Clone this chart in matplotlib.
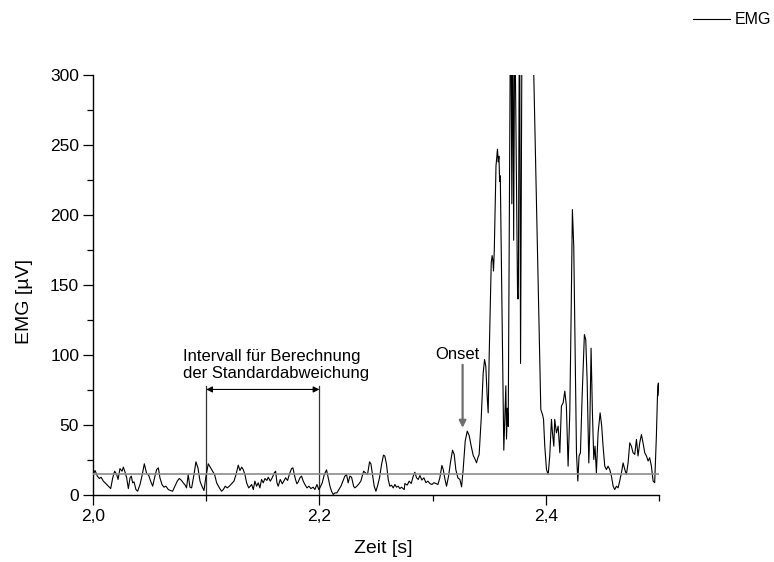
import matplotlib
matplotlib.use("Agg")
import matplotlib.pyplot as plt
from matplotlib.ticker import FixedLocator, MultipleLocator

plt.rcParams['font.family'] = ['Liberation Sans', 'DejaVu Sans']

# EMG trace: time [s] and amplitude [µV]
t_s = [
    2.0000, 2.0018, 2.0038, 2.0056, 2.0071, 2.0091, 2.0115, 2.0135, 2.0156, 2.0174,
    2.0191, 2.0209, 2.0221, 2.0238, 2.0256, 2.0268, 2.0285, 2.0297, 2.0312, 2.0327,
    2.0338, 2.0350, 2.0362, 2.0379, 2.0394, 2.0415, 2.0435, 2.0453, 2.0474, 2.0491,
    2.0509, 2.0527, 2.0547, 2.0562, 2.0577, 2.0591, 2.0609, 2.0627, 2.0644, 2.0665,
    2.0685, 2.0703, 2.0724, 2.0744, 2.0762, 2.0782, 2.0797, 2.0815, 2.0826, 2.0841,
    2.0856, 2.0871, 2.0892, 2.0909, 2.0927, 2.0945, 2.0962, 2.0980, 2.0998, 2.1018,
    2.1039, 2.1057, 2.1074, 2.1092, 2.1116, 2.1136, 2.1151, 2.1168, 2.1186, 2.1204,
    2.1224, 2.1245, 2.1263, 2.1283, 2.1298, 2.1313, 2.1327, 2.1342, 2.1357, 2.1375,
    2.1386, 2.1401, 2.1416, 2.1430, 2.1445, 2.1460, 2.1474, 2.1489, 2.1504, 2.1519,
    2.1536, 2.1548, 2.1566, 2.1583, 2.1601, 2.1613, 2.1625, 2.1636, 2.1654, 2.1672,
    2.1689, 2.1701, 2.1719, 2.1736, 2.1754, 2.1766, 2.1778, 2.1789, 2.1801, 2.1813,
    2.1828, 2.1842, 2.1857, 2.1872, 2.1890, 2.1907, 2.1925, 2.1945, 2.1960, 2.1978,
    2.1995, 2.2004, 2.2025, 2.2043, 2.2063, 2.2078, 2.2093, 2.2107, 2.2122, 2.2137,
    2.2154, 2.2172, 2.2190, 2.2207, 2.2225, 2.2240, 2.2254, 2.2269, 2.2284, 2.2302,
    2.2313, 2.2331, 2.2349, 2.2366, 2.2378, 2.2390, 2.2407, 2.2425, 2.2443, 2.2455,
    2.2469, 2.2484, 2.2499, 2.2513, 2.2531, 2.2549, 2.2566, 2.2578, 2.2593, 2.2608,
    2.2622, 2.2637, 2.2652, 2.2667, 2.2681, 2.2696, 2.2711, 2.2725, 2.2749, 2.2755,
    2.2776, 2.2793, 2.2811, 2.2829, 2.2843, 2.2858, 2.2873, 2.2888, 2.2905, 2.2923,
    2.2941, 2.2958, 2.2976, 2.2994, 2.3011, 2.3029, 2.3047, 2.3064, 2.3082, 2.3094,
    2.3108, 2.3123, 2.3141, 2.3158, 2.3176, 2.3191, 2.3205, 2.3223, 2.3241, 2.3256,
    2.3270, 2.3288, 2.3306, 2.3323, 2.3341, 2.3359, 2.3376, 2.3388, 2.3400, 2.3411,
    2.3429, 2.3447, 2.3459, 2.3470, 2.3482, 2.3491, 2.3500, 2.3518, 2.3526, 2.3532,
    2.3538, 2.3545, 2.3560, 2.3573, 2.3580, 2.3586, 2.3592, 2.3598, 2.3629, 2.3640,
    2.3647, 2.3653, 2.3660, 2.3668, 2.3690, 2.3700, 2.3708, 2.3716, 2.3726, 2.3750,
    2.3754, 2.3758, 2.3768, 2.3777, 2.3792, 2.3830, 2.3865, 2.3890, 2.3956, 2.3971,
    2.3980, 2.3991, 2.4006, 2.4021, 2.4035, 2.4050, 2.4059, 2.4071, 2.4079, 2.4094,
    2.4109, 2.4124, 2.4138, 2.4153, 2.4168, 2.4182, 2.4197, 2.4212, 2.4224, 2.4235,
    2.4247, 2.4259, 2.4271, 2.4283, 2.4294, 2.4306, 2.4321, 2.4341, 2.4353, 2.4365,
    2.4380, 2.4388, 2.4400, 2.4412, 2.4424, 2.4435, 2.4447, 2.4462, 2.4480, 2.4494,
    2.4506, 2.4521, 2.4536, 2.4550, 2.4565, 2.4580, 2.4595, 2.4609, 2.4624, 2.4639,
    2.4653, 2.4668, 2.4683, 2.4698, 2.4712, 2.4727, 2.4742, 2.4756, 2.4771, 2.4786,
    2.4801, 2.4815, 2.4830, 2.4845, 2.4859, 2.4874, 2.4889, 2.4904, 2.4918, 2.4933,
    2.4948, 2.4962, 2.4977, 2.4989, 2.4995, 2.5000,
]
emg_uv = [
    14.6, 17.5, 13.5, 11.8, 12.7, 9.9, 8.0, 6.3, 4.6, 12.3,
    17.0, 14.6, 11.1, 18.9, 17.0, 19.9, 15.8, 12.3, 4.6, 12.3,
    13.5, 8.7, 9.4, 3.9, 2.7, 7.5, 14.6, 22.3, 15.2, 14.2,
    9.9, 6.3, 13.5, 18.2, 19.4, 12.3, 7.5, 5.6, 6.3, 3.9,
    3.2, 2.7, 6.3, 9.9, 11.8, 10.4, 8.7, 7.0, 5.1, 14.6,
    5.6, 5.1, 14.6, 23.7, 19.4, 9.9, 6.3, 3.2, 13.5, 22.3,
    19.4, 17.0, 14.6, 8.7, 5.1, 2.7, 3.9, 6.3, 5.1, 6.3,
    8.0, 9.9, 14.6, 21.3, 17.5, 19.9, 18.2, 14.6, 8.7, 5.1,
    6.0, 7.5, 3.9, 9.9, 6.3, 8.7, 5.1, 11.1, 8.7, 11.8,
    10.4, 12.7, 9.9, 12.3, 15.8, 17.0, 8.7, 6.3, 11.1, 8.0,
    10.4, 12.3, 10.4, 15.2, 18.9, 19.4, 14.6, 11.1, 8.0, 9.4,
    12.3, 13.5, 9.9, 7.5, 5.1, 6.3, 4.6, 5.6, 3.9, 7.5,
    3.9, 5.1, 8.7, 14.6, 18.0, 12.3, 6.3, 2.7, 0.4, 1.5,
    1.5, 3.9, 6.3, 9.9, 13.5, 14.6, 8.7, 13.5, 12.7, 6.3,
    5.1, 6.3, 8.0, 9.9, 13.5, 17.0, 15.8, 14.6, 23.7, 22.3,
    14.6, 6.3, 2.7, 6.3, 12.3, 21.8, 28.5, 27.8, 21.8, 11.1,
    6.3, 7.0, 5.1, 7.5, 5.6, 6.3, 4.6, 5.6, 3.9, 8.2,
    7.1, 9.9, 8.2, 13.5, 16.3, 12.3, 11.1, 13.9, 10.7, 12.3,
    8.8, 9.9, 8.2, 7.5, 8.8, 8.2, 7.5, 12.3, 21.1, 18.2,
    11.7, 6.3, 13.5, 23.4, 32.0, 28.9, 18.2, 12.3, 11.1, 5.8,
    18.2, 38.5, 45.6, 42.5, 34.9, 28.2, 25.4, 23.0, 26.6, 28.9,
    53.9, 87.3, 96.8, 92.0, 70.6, 58.7, 100.0, 166.0, 171.0, 168.0,
    160.0, 175.0, 235.0, 247.0, 238.0, 242.0, 224.0, 228.0, 32.0, 60.0,
    78.0, 40.0, 62.0, 49.0, 380.0, 208.0, 360.0, 182.0, 350.0, 147.0,
    140.0, 150.0, 380.0, 94.0, 380.0, 430.0, 400.0, 315.0, 61.0, 57.5,
    54.0, 34.9, 18.2, 14.6, 27.9, 54.0, 44.4, 34.9, 54.0, 44.4,
    49.2, 30.2, 63.5, 65.8, 74.2, 63.5, 20.6, 58.7, 130.0, 203.9,
    177.7, 106.3, 30.2, 10.0, 27.9, 30.2, 70.6, 114.6, 111.0, 82.5,
    22.9, 44.4, 104.9, 58.7, 25.4, 34.9, 15.8, 44.4, 58.7, 49.2,
    34.9, 20.6, 18.2, 20.6, 18.2, 13.4, 6.3, 3.9, 6.3, 5.1,
    10.0, 15.8, 22.9, 18.2, 14.6, 22.9, 37.3, 34.9, 30.2, 29.0,
    39.7, 27.9, 37.3, 43.2, 37.3, 30.2, 27.9, 24.3, 26.6, 20.6,
    10.0, 8.8, 42.0, 77.7, 80.0, 71.0,
]

threshold_uv = 15.0                 # onset threshold
interval_s = (2.1, 2.2)             # window for the standard deviation
interval_top_uv = 78.0
interval_arrow_uv = 75.4
onset_s = 2.3265
onset_arrow_uv = (93.0, 48.0)

x_major = [2.0, 2.2, 2.4]
x_major_labels = ['2,0', '2,2', '2,4']
x_minor = [2.1, 2.3, 2.5]
y_major = [0, 50, 100, 150, 200, 250, 300]

fig = plt.figure(figsize=(7.74, 5.62), dpi=100)
ax = fig.add_axes([0.1202, 0.1192, 0.7312, 0.7473])

ax.plot(t_s, emg_uv, color='black', lw=0.8, label='EMG', zorder=3)
ax.plot([2.0, 2.5], [threshold_uv, threshold_uv], color='#8c8c8c', lw=1.2, zorder=4)

# interval used for the standard deviation
for xv in interval_s:
    ax.plot([xv, xv], [0, interval_top_uv], color='#333333', lw=0.9, zorder=2)
ax.annotate('', xy=(interval_s[1], interval_arrow_uv), xytext=(interval_s[0], interval_arrow_uv),
            arrowprops=dict(arrowstyle='<|-|>', lw=0.8, color='black',
                            mutation_scale=9, shrinkA=0, shrinkB=0))
ax.text(2.0797, 95.6, 'Intervall für Berechnung', fontsize=12, ha='left', va='baseline')
ax.text(2.0797, 83.9, 'der Standardabweichung', fontsize=12, ha='left', va='baseline')

# onset marker
ax.annotate('', xy=(onset_s, onset_arrow_uv[1]), xytext=(onset_s, onset_arrow_uv[0]),
            arrowprops=dict(arrowstyle='-|>', lw=1.6, color='#6e6e6e',
                            mutation_scale=10, shrinkA=0, shrinkB=0))
ax.text(2.3223, 97.0, 'Onset', fontsize=12, ha='center', va='baseline')

ax.set_xlim(2.0, 2.5)
ax.set_ylim(0, 300)
for side in ('top', 'right'):
    ax.spines[side].set_visible(False)
for side in ('left', 'bottom'):
    ax.spines[side].set_linewidth(1.0)

ax.xaxis.set_major_locator(FixedLocator(x_major))
ax.set_xticklabels(x_major_labels)
ax.xaxis.set_minor_locator(FixedLocator(x_minor))
ax.yaxis.set_major_locator(FixedLocator(y_major))
ax.yaxis.set_minor_locator(MultipleLocator(25))
ax.tick_params(which='major', direction='out', length=7, width=0.9, labelsize=12.5, pad=3)
ax.tick_params(which='minor', direction='out', length=4, width=0.9)

ax.set_xlabel('Zeit [s]', fontsize=14)
ax.set_ylabel('EMG [µV]', fontsize=14)
ax.xaxis.set_label_coords(0.512, -0.108)
ax.yaxis.set_label_coords(-0.106, 0.46)

fig.legend(loc='center right', bbox_to_anchor=(771 / 774, 1 - 20 / 562), frameon=False,
           fontsize=11.5, handlelength=2.3, handletextpad=0.3, borderpad=0, borderaxespad=0)

fig.savefig('out.png', dpi=100, facecolor='white')
